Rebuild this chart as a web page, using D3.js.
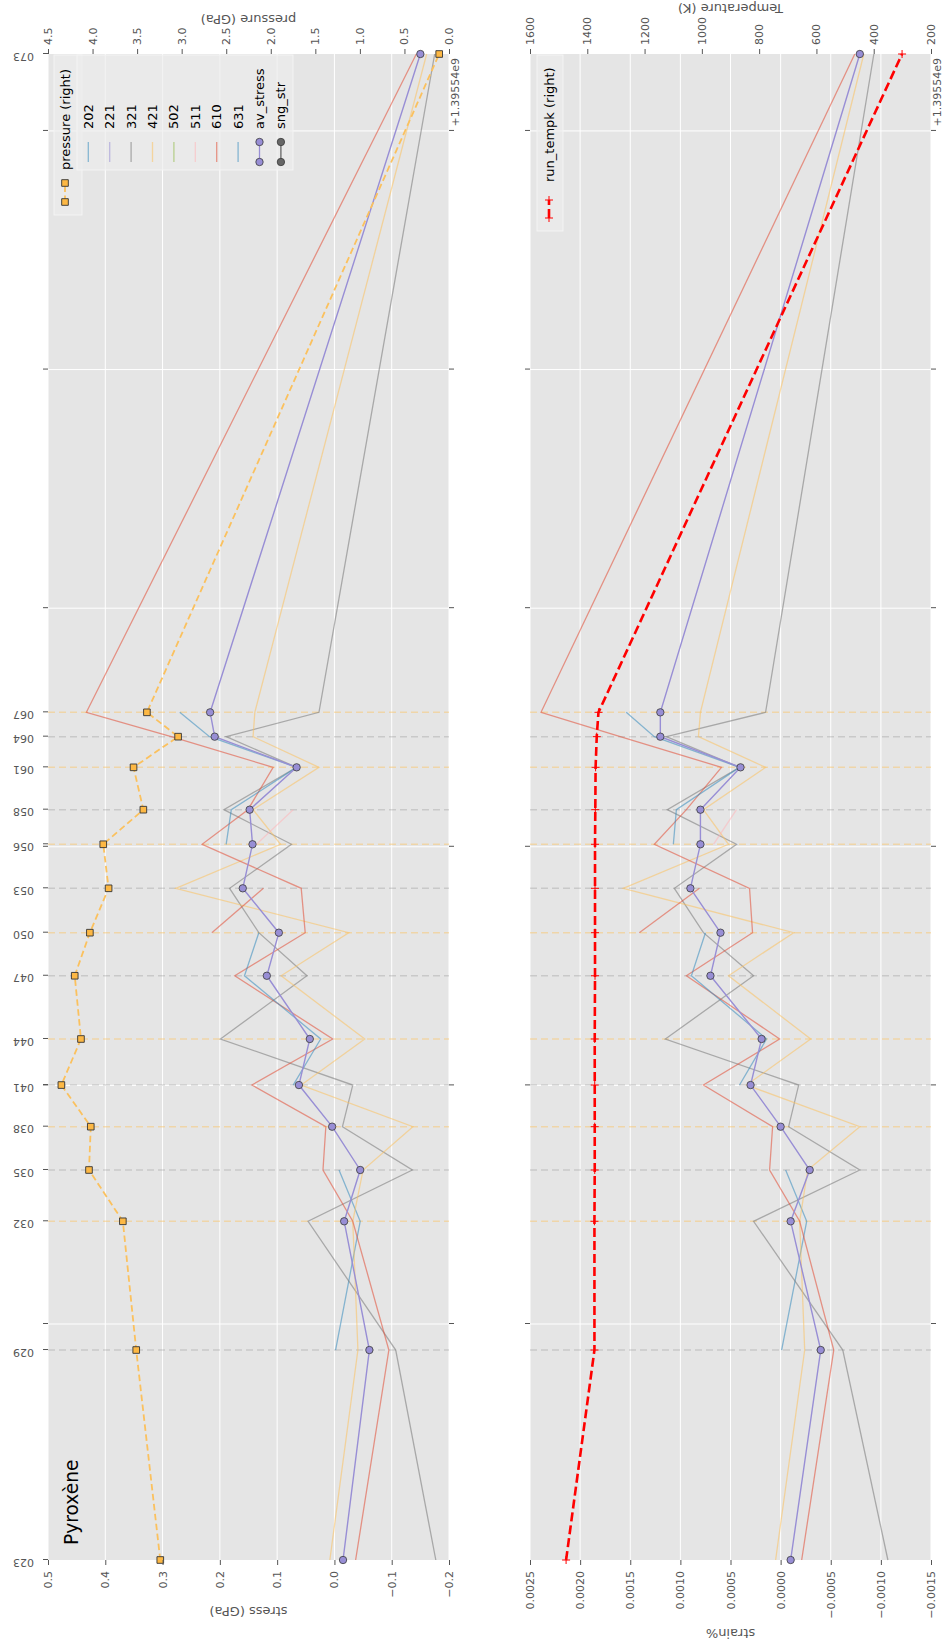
<!DOCTYPE html>
<html>
<head>
<meta charset="utf-8">
<script src="https://cdn.jsdelivr.net/npm/d3@7/dist/d3.min.js"></script>
<style>
  body { margin: 0; background: #fff; }
  svg { display: block; }
  text { font-family: "DejaVu Sans", sans-serif; }
</style>
</head>
<body>
<script>
// run labels and times (seconds after 1.39554e9)
const runs  = ["023","029","032","035","038","041","044","047","050","053","056","058","061","064","067","073"];
const times = [22,1782,2861,3291,3654,4003,4389,4919,5280,5652,6021,6311,6666,6923,7127,12645];

// top panel: stress (GPa) per gauge, pressure (GPa) on the right
const pressure  = [3.24,3.51,3.66,4.04,4.02,4.35,4.13,4.20,4.03,3.82,3.88,3.43,3.54,3.04,3.39,0.11];
const avStress  = [-0.015,-0.061,-0.017,-0.045,0.004,0.062,0.043,0.118,0.097,0.160,0.143,0.148,0.066,0.209,0.217,-0.150];
const stress202 = [null,-0.002,-0.045,-0.008,null,null,null,null,null,null,null,null,null,null,null,null];
const stress221 = [null,null,null,null,null,null,null,null,null,null,null,null,null,null,null,null];
const stress321 = [-0.177,-0.107,0.046,-0.136,-0.014,-0.032,0.199,0.048,0.132,0.183,0.075,0.193,0.066,0.189,0.027,-0.175];
const stress421 = [0.008,-0.041,-0.032,-0.050,-0.137,0.058,-0.053,0.093,-0.025,0.277,0.094,0.142,0.027,0.142,0.139,-0.161];
const stress502 = [null,null,null,null,null,null,null,null,null,null,null,null,null,null,null,null];
const stress511 = [null,null,null,null,null,null,null,null,null,null,0.136,0.072,null,null,null,null];
const stress610 = [-0.037,-0.095,-0.032,0.020,0.015,0.144,0.003,0.174,0.051,0.058,0.231,0.151,0.107,0.285,0.433,-0.143];
const stress631 = [null,null,null,null,null,0.072,0.024,0.157,0.132,null,0.189,0.180,0.066,0.218,0.270,null];
const stress610b = [null,null,null,null,null,null,null,null,0.214,0.124,null,null,null,null,null,null];
const sngStr    = [null,null,null,null,null,null,null,null,null,null,null,null,null,null,null,null];

// bottom panel: strain% per gauge, run temperature (K) on the right
const runTempK  = [1474,1375,1375,1374,1374,1374,1374,1373,1373,1373,1373,1372,1371,1367,1361,301];
const avStrain  = [-0.00010,-0.00040,-0.00010,-0.00029,0.00000,0.00030,0.00019,0.00070,0.00060,0.00090,0.00080,0.00080,0.00040,0.00120,0.00120,-0.00079];
const strain202 = [null,-0.00001,-0.00026,-0.00005,null,null,null,null,null,null,null,null,null,null,null,null];
const strain321 = [-0.00107,-0.00062,0.00027,-0.00079,-0.00008,-0.00018,0.00115,0.00027,0.00077,0.00106,0.00044,0.00113,0.00041,0.00114,0.00015,-0.00093];
const strain421 = [0.00005,-0.00024,-0.00019,-0.00027,-0.00079,0.00034,-0.00030,0.00052,-0.00013,0.00157,0.00052,0.00077,0.00015,0.00082,0.00080,-0.00083];
const strain511 = [null,null,null,null,null,null,null,null,null,null,0.00067,0.00044,null,null,null,null];
const strain610 = [-0.00021,-0.00053,-0.00019,0.00011,0.00008,0.00077,0.00001,0.00094,0.00028,0.00031,0.00126,0.00094,0.00059,0.00160,0.00239,-0.00074];
const strain631 = [null,null,null,null,null,0.00041,0.00014,0.00089,0.00075,null,0.00107,0.00104,0.00041,0.00126,0.00154,null];
const strain610b = [null,null,null,null,null,null,null,null,0.00141,0.00081,null,null,null,null,null,null];

const legendNames = ["202","221","321","421","502","511","610","631","av_stress","sng_str"];

// colours
const C = {blue:"#348ABD", purple:"#988ED5", gray:"#777777", yellow:"#FBC15E",
           green:"#8EBA42", pink:"#FFB5B8", red:"#E24A33"};

// the figure is laid out in landscape, then turned a quarter turn
const W = 1641, H = 944;
const left = 81, right = 1587;
const top1 = 48, bot1 = 449, top2 = 530, bot2 = 931;

const svg = d3.select("body").append("svg").attr("width", H).attr("height", W);
const fig = svg.append("g").attr("transform", `translate(0,${W}) rotate(-90)`);

const x = d3.scaleLinear().domain([times[0], times[times.length - 1]]).range([left, right]);
const yStress = d3.scaleLinear().domain([-0.2, 0.5]).range([bot1, top1]);
const yPress  = d3.scaleLinear().domain([0, 4.5]).range([bot1, top1]);
const yStrain = d3.scaleLinear().domain([-0.0015, 0.0025]).range([bot2, top2]);
const yTemp   = d3.scaleLinear().domain([200, 1600]).range([bot2, top2]);

const pts = vals => times.map((t, i) => [t, vals[i]]);
const lineGen = y => d3.line().defined(d => d[1] != null).x(d => x(d[0])).y(d => y(d[1]));

function styleAxis(sel) {
  sel.select(".domain").remove();
  sel.attr("font-size", 11).attr("font-family", '"DejaVu Sans", sans-serif');
  sel.selectAll("line").attr("stroke", "#555");
  sel.selectAll("text").attr("fill", "#555");
}

function panel(yl, yTicks, top, bot) {
  const p = fig.append("g");
  p.append("rect").attr("x", left).attr("y", top).attr("width", right - left)
    .attr("height", bot - top).attr("fill", "#E5E5E5");
  p.selectAll(null).data(x.ticks(6)).join("line")
    .attr("x1", d => x(d)).attr("x2", d => x(d)).attr("y1", top).attr("y2", bot)
    .attr("stroke", "#fff").attr("stroke-width", 1);
  p.selectAll(null).data(yl.ticks(yTicks)).join("line")
    .attr("x1", left).attr("x2", right).attr("y1", d => yl(d)).attr("y2", d => yl(d))
    .attr("stroke", "#fff").attr("stroke-width", 1);
  // run markers (inner runs only)
  p.selectAll(null).data(times.map((t, i) => [t, i]).slice(1, -1)).join("line")
    .attr("x1", d => x(d[0])).attr("x2", d => x(d[0])).attr("y1", top).attr("y2", bot)
    .attr("stroke", d => d[1] % 2 ? C.gray : C.yellow)
    .attr("stroke-opacity", d => d[1] % 2 ? 0.25 : 0.45)
    .attr("stroke-width", 1.5).attr("stroke-dasharray", "7,4");
  // major x ticks
  p.append("g").attr("transform", `translate(0,${bot})`)
    .call(d3.axisBottom(x).ticks(6).tickSize(5).tickFormat("")).call(styleAxis);
  p.append("g").attr("transform", `translate(0,${top})`)
    .call(d3.axisTop(x).ticks(6).tickSize(5).tickFormat("")).call(styleAxis);
  return p;
}

function drawLines(p, y, series) {
  series.forEach(s => {
    p.append("path").datum(pts(s.vals)).attr("d", lineGen(y))
      .attr("fill", "none").attr("stroke", s.color).attr("stroke-opacity", 0.55)
      .attr("stroke-width", 1.3);
  });
}

function drawAverage(p, y, vals) {
  p.append("path").datum(pts(vals)).attr("d", lineGen(y))
    .attr("fill", "none").attr("stroke", C.purple).attr("stroke-width", 1.4);
  p.selectAll(null).data(pts(vals)).join("circle")
    .attr("cx", d => x(d[0])).attr("cy", d => y(d[1])).attr("r", 3.7)
    .attr("fill", C.purple).attr("stroke", "#3a3a3a").attr("stroke-width", 0.8);
}

// ---------- stress panel ----------
const p1 = panel(yStress, 8, top1, bot1);
drawLines(p1, yStress, [
  {vals: stress202, color: C.blue}, {vals: stress221, color: C.purple},
  {vals: stress321, color: C.gray}, {vals: stress421, color: C.yellow},
  {vals: stress502, color: C.green}, {vals: stress511, color: C.pink},
  {vals: stress610, color: C.red}, {vals: stress631, color: C.blue},
  {vals: stress610b, color: C.red}
]);
drawAverage(p1, yStress, avStress);

p1.append("path").datum(pts(pressure)).attr("d", lineGen(yPress))
  .attr("fill", "none").attr("stroke", C.yellow).attr("stroke-width", 1.8)
  .attr("stroke-dasharray", "6.5,3.5");
p1.selectAll(null).data(pts(pressure)).join("path")
  .attr("transform", d => `translate(${x(d[0])},${yPress(d[1])})`)
  .attr("d", d3.symbol(d3.symbolSquare, 44))
  .attr("fill", "#FDB844").attr("stroke", "#333").attr("stroke-width", 0.9);

fig.append("g").attr("transform", `translate(${left},0)`)
  .call(d3.axisLeft(yStress).ticks(8).tickFormat(d3.format(".1f")).tickSize(5).tickPadding(6))
  .call(styleAxis);
fig.append("g").attr("transform", `translate(${right},0)`)
  .call(d3.axisRight(yPress).ticks(9).tickFormat(d3.format(".1f")).tickSize(5).tickPadding(4))
  .call(styleAxis);

// run labels along the top of the stress panel
fig.append("g").attr("transform", `translate(0,${top1})`)
  .call(d3.axisTop(x).tickValues(times).tickFormat((d, i) => runs[i]).tickSize(5))
  .call(styleAxis)
  .selectAll("text")
  .attr("transform", "rotate(-90)").attr("text-anchor", "start")
  .attr("x", 14).attr("y", -3).attr("dy", "0.35em");

// ---------- strain panel ----------
const p2 = panel(yStrain, 8, top2, bot2);
drawLines(p2, yStrain, [
  {vals: strain202, color: C.blue}, {vals: strain321, color: C.gray},
  {vals: strain421, color: C.yellow}, {vals: strain511, color: C.pink},
  {vals: strain610, color: C.red}, {vals: strain631, color: C.blue},
  {vals: strain610b, color: C.red}
]);
drawAverage(p2, yStrain, avStrain);

p2.append("path").datum(pts(runTempK)).attr("d", lineGen(yTemp))
  .attr("fill", "none").attr("stroke", "red").attr("stroke-width", 2.6)
  .attr("stroke-dasharray", "9,4");
p2.selectAll(null).data(pts(runTempK)).join("path")
  .attr("transform", d => `translate(${x(d[0])},${yTemp(d[1])})`)
  .attr("d", "M-4,0H4M0,-4V4").attr("stroke", "red").attr("stroke-width", 1);

fig.append("g").attr("transform", `translate(${left},0)`)
  .call(d3.axisLeft(yStrain).ticks(8).tickFormat(d3.format(".4f")).tickSize(5).tickPadding(6))
  .call(styleAxis);
fig.append("g").attr("transform", `translate(${right},0)`)
  .call(d3.axisRight(yTemp).ticks(8).tickFormat(d3.format("d")).tickSize(5).tickPadding(4))
  .call(styleAxis);

// ---------- texts ----------
const label = (txt, tx, ty, rot, anchor, size, color) =>
  fig.append("text").attr("transform", `translate(${tx},${ty}) rotate(${rot})`)
    .attr("text-anchor", anchor).attr("font-size", size).attr("fill", color).text(txt);

label("stress (GPa)", 34, (top1 + bot1) / 2, -90, "middle", 13, "#555");
label("strain%", 12.5, (top2 + bot2) / 2, -90, "middle", 13, "#555");
label("pressure (GPa)", 1626, (top1 + bot1) / 2, -90, "middle", 13, "#555");
label("Temperature (K)", 1637, (top2 + bot2) / 2, -90, "middle", 13, "#555");
label("+1.39554e9", 1583, 458.5, 0, "end", 11, "#555");
label("+1.39554e9", 1583, 940.5, 0, "end", 11, "#555");
label("Pyroxène", 96, 78, 0, "start", 18.6, "#000");

// ---------- legends ----------
function legendBox(x0, y0, w, h) {
  fig.append("rect").attr("x", x0).attr("y", y0).attr("width", w).attr("height", h)
    .attr("fill", "#ECECEC").attr("fill-opacity", 0.7)
    .attr("stroke", "#F4F4F4").attr("stroke-width", 1);
}

// pressure legend
legendBox(1426, 54, 160, 28);
fig.append("line").attr("x1", 1439).attr("x2", 1458).attr("y1", 65).attr("y2", 65)
  .attr("stroke", C.yellow).attr("stroke-width", 1.8).attr("stroke-dasharray", "6.5,3.5");
[1439, 1458].forEach(px => fig.append("path").attr("transform", `translate(${px},65)`)
  .attr("d", d3.symbol(d3.symbolSquare, 44)).attr("fill", "#FDB844")
  .attr("stroke", "#333").attr("stroke-width", 0.9));
fig.append("text").attr("x", 1471).attr("y", 65).attr("dy", "0.35em")
  .attr("font-size", 13).attr("fill", "#000").text("pressure (right)");

// gauges legend
const legendColors = [C.blue, C.purple, C.gray, C.yellow, C.green, C.pink, C.red, C.blue, C.purple, "#666"];
legendBox(1471, 77, 115, 216);
legendNames.forEach((name, i) => {
  const cy = 88.3 + i * 21.4;
  const marked = i >= 8;
  fig.append("line").attr("x1", 1479).attr("x2", 1499).attr("y1", cy).attr("y2", cy)
    .attr("stroke", legendColors[i]).attr("stroke-opacity", marked ? 1 : 0.55)
    .attr("stroke-width", 1.3);
  if (marked) {
    [1479, 1499].forEach(px => fig.append("circle").attr("cx", px).attr("cy", cy).attr("r", 3.7)
      .attr("fill", legendColors[i]).attr("stroke", "#3a3a3a").attr("stroke-width", 0.8));
  }
  fig.append("text").attr("x", 1512).attr("y", cy).attr("dy", "0.35em")
    .attr("font-size", 13).attr("fill", "#000").text(name);
});

// temperature legend
legendBox(1410, 537, 176, 26);
fig.append("line").attr("x1", 1423).attr("x2", 1441).attr("y1", 549).attr("y2", 549)
  .attr("stroke", "red").attr("stroke-width", 2.6).attr("stroke-dasharray", "9,4");
[1423, 1441].forEach(px => fig.append("path").attr("transform", `translate(${px},549)`)
  .attr("d", "M-4,0H4M0,-4V4").attr("stroke", "red").attr("stroke-width", 1));
fig.append("text").attr("x", 1459).attr("y", 549).attr("dy", "0.35em")
  .attr("font-size", 13).attr("fill", "#000").text("run_tempk (right)");
</script>
</body>
</html>
